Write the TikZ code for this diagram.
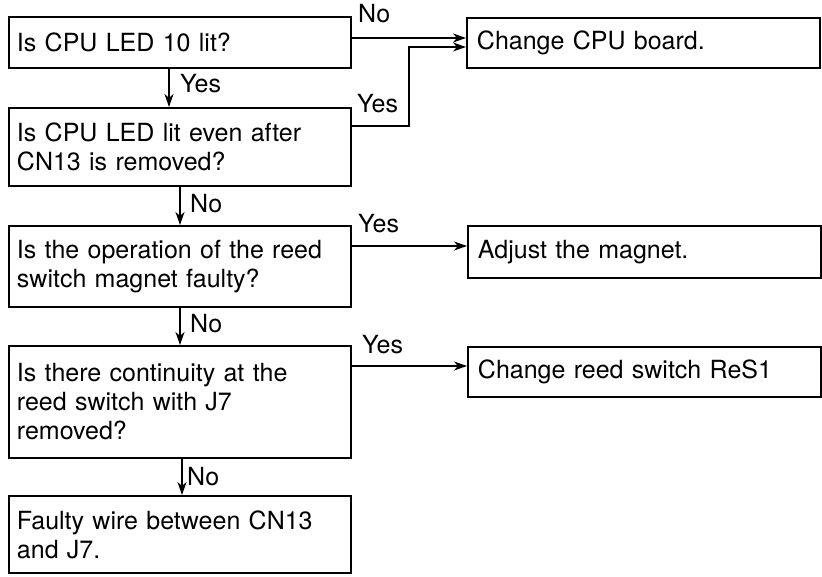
\documentclass[tikz,border=0pt]{standalone}
\usepackage{fontspec}
\setmainfont{TeX Gyre Heros}
\usetikzlibrary{arrows.meta}
\begin{document}
\begin{tikzpicture}[x=1pt,y=-1pt,
  every node/.style={font=\fontsize{25}{29}\selectfont},
  box/.style={draw, line width=1.9pt, anchor=north west, align=left, inner ysep=0pt},
  lbox/.style={box, minimum width=342pt, text width=326pt, inner xsep=8pt},
  rbox/.style={box, minimum width=353pt, text width=333pt, inner xsep=10pt},
  lbl/.style={anchor=base west, inner sep=0pt},
  arr/.style={line width=1.9pt, -{Stealth[length=13pt,width=9pt,inset=4pt]}}]
\useasboundingbox (0,0) rectangle (822,577);
% left column
\node[lbox, minimum height=51pt] (b1) at (8,16) {Is CPU LED 10 lit?};
\node[lbox, minimum height=78pt] (b2) at (8,107) {Is CPU LED lit even after\\CN13 is removed?};
\node[lbox, minimum height=81pt] (b3) at (8,225) {Is the operation of the reed\\switch magnet faulty?};
\node[lbox, minimum height=112pt] (b4) at (8,345) {Is there continuity at the\\reed switch with J7\\removed?};
\node[lbox, minimum height=77pt] (b5) at (8,495) {Faulty wire between CN13\\and J7.};
% right column
\node[rbox, minimum height=50pt] (r1) at (466,17) {Change CPU board.};
\node[rbox, minimum height=52pt] (r2) at (467,225) {Adjust the magnet.};
\node[rbox, minimum height=50pt] (r3) at (467,346) {Change reed switch ReS1};
% helper coordinates
\coordinate (v1) at (169,0);
\coordinate (v2) at (180,0);
\coordinate (v4) at (182,0);
\coordinate (h1) at (0,38);
\coordinate (h2) at (0,126);
\coordinate (h2t) at (0,47);
\coordinate (h3) at (0,246);
\coordinate (h4) at (0,366);
\coordinate (jx) at (409,0);
% vertical connectors
\draw[arr] (b1.south -| v1) -- (b2.north -| v1);
\draw[arr] (b2.south -| v2) -- (b3.north -| v2);
\draw[arr] (b3.south -| v2) -- (b4.north -| v2);
\draw[arr] (b4.south -| v4) -- (b5.north -| v4);
% horizontal connectors
\draw[arr] (b1.east |- h1) -- (r1.west |- h1);
\draw[arr] (b2.east |- h2) -- (jx |- h2) -- (jx |- h2t) -- (r1.west |- h2t);
\draw[arr] (b3.east |- h3) -- (r2.west |- h3);
\draw[arr] (b4.east |- h4) -- (r3.west |- h4);
% labels
\node[lbl] (l1) at (358,23) {No};
\node[lbl] (l2) at (180,93) {Yes};
\node[lbl] (l3) at (357,113) {Yes};
\node[lbl] (l4) at (190,213) {No};
\node[lbl] (l5) at (358,233) {Yes};
\node[lbl] (l6) at (190,333) {No};
\node[lbl] (l7) at (362,353) {Yes};
\node[lbl] (l8) at (187,485) {No};
\end{tikzpicture}
\end{document}
